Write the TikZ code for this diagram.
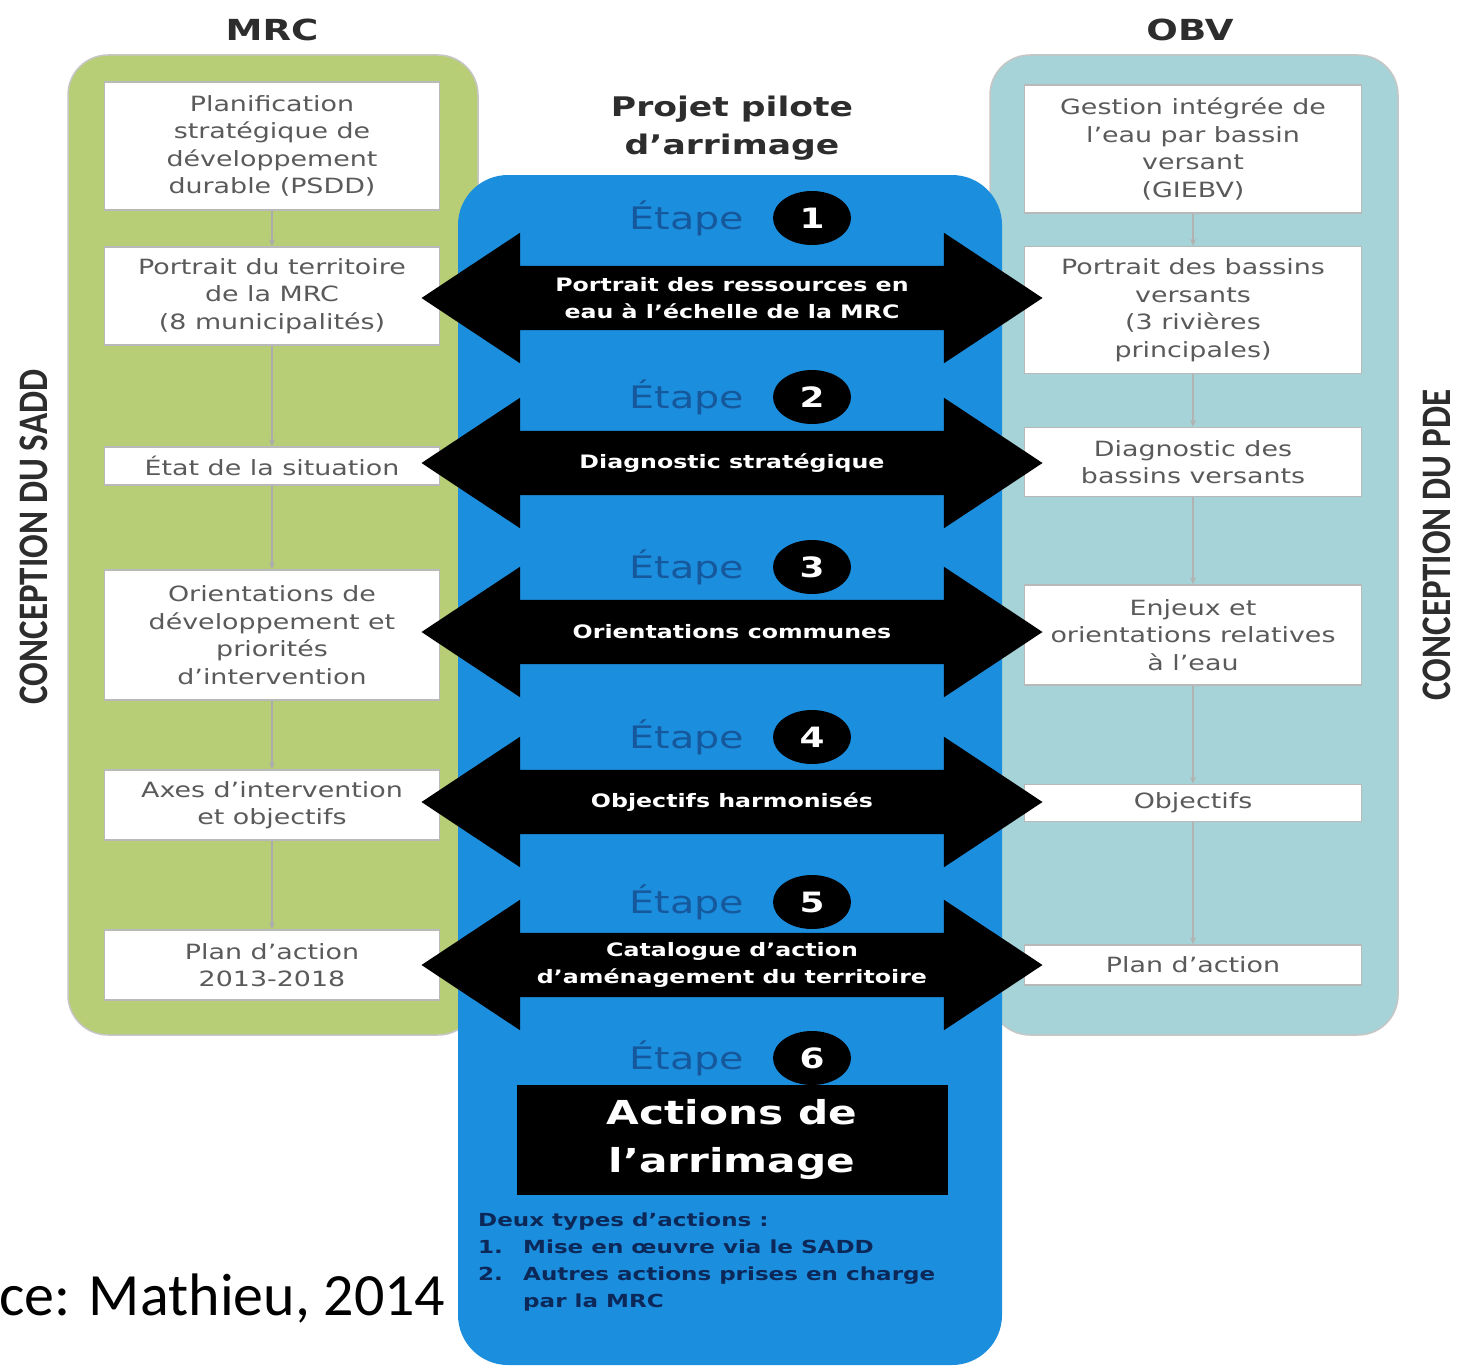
\documentclass[tikz,border=0pt]{standalone}
\usepackage{fontspec}
\usepackage{graphicx}
\setmainfont{DejaVu Sans}[FakeStretch=1.28]
\newfontfamily\srcfont{Carlito}
\newfontfamily\sidefont{Carlito}
\usetikzlibrary{shapes.arrows,shapes.geometric,arrows.meta}
\definecolor{mrcgreen}{RGB}{183,205,118}
\definecolor{obvteal}{RGB}{166,211,215}
\definecolor{pilotblue}{RGB}{28,142,222}
\definecolor{etapeblue}{RGB}{22,88,156}
\definecolor{titlegray}{RGB}{45,45,45}
\definecolor{boxtext}{RGB}{90,90,90}
\definecolor{listnavy}{RGB}{12,40,88}
\newcommand{\arrtext}[1]{\parbox[c][44pt][c]{400pt}{\centering #1}}

\begin{document}
\begin{tikzpicture}[x=1pt,y=-1pt,
  mrcbox/.style={rectangle,draw=gray!55,line width=1.5pt,fill=white,text=boxtext,
    align=center,minimum width=335pt,inner sep=2pt,font=\fontsize{21}{27.5}\selectfont},
  obvbox/.style={mrcbox,minimum width=337pt},
  titre/.style={text=titlegray,align=center,font=\bfseries\fontsize{29}{38}\selectfont},
  cote/.style={rotate=90,text=titlegray,inner sep=0pt,font=\sidefont\bfseries\fontsize{35}{35}\selectfont},
  etape/.style={text=etapeblue,font=\fontsize{31}{31}\selectfont},
  numero/.style={ellipse,fill=black,text=white,minimum width=78pt,minimum height=54pt,
    inner sep=0pt,font=\bfseries\fontsize{28}{28}\selectfont},
  lien/.style={double arrow,fill=black,text=white,minimum height=621pt,minimum width=130pt,
    double arrow head extend=33pt,double arrow tip angle=67,inner xsep=0pt,inner ysep=10pt,
    font=\bfseries\fontsize{18.5}{27}\selectfont},
  fleche/.style={draw=#1,line width=1.3pt,-{Stealth[length=7pt,width=6pt]}}]
\useasboundingbox (0,0) rectangle (1459,1370);
\filldraw[fill=mrcgreen,draw=gray!45,line width=1.5pt,rounded corners=40pt] (68,55) rectangle (478,1035);
\filldraw[fill=obvteal,draw=gray!45,line width=1.5pt,rounded corners=40pt] (990,55) rectangle (1398,1035);
\node[anchor=base west,font=\srcfont\fontsize{60}{60}\selectfont] (source) at (-4,1315) {ce: Mathieu, 2014};
\fill[pilotblue,rounded corners=50pt] (458,175) rectangle (1002,1365);
\path
(272,30) node[titre] (mrc) {MRC}
(1190,30) node[titre] (obv) {OBV}
(732,128) node[titre,font=\bfseries\fontsize{27}{38}\selectfont] (pilote) {Projet pilote\\d'arrimage}
(34,537) node[cote] (sadd) {\scalebox{1}[1.2]{CONCEPTION DU SADD}}
(1437,545) node[cote] (pde) {\scalebox{1}[1.2]{CONCEPTION DU PDE}}
(272,146) node[mrcbox,minimum height=128pt] (m1) {Planification\\stratégique de\\développement\\durable (PSDD)}
(272,296) node[mrcbox,minimum height=98pt] (m2) {Portrait du territoire\\de la MRC\\(8 municipalités)}
(272,466) node[mrcbox,minimum height=38pt] (m3) {État de la situation}
(272,635) node[mrcbox,minimum height=130pt] (m4) {Orientations de\\développement et\\priorités\\d'intervention}
(272,805) node[mrcbox,minimum height=70pt] (m5) {Axes d'intervention\\et objectifs}
(272,965) node[mrcbox,minimum height=70pt] (m6) {Plan d'action\\2013-2018}
(1193,149) node[obvbox,minimum height=128pt] (o1) {Gestion intégrée de\\l'eau par bassin\\versant\\(GIEBV)}
(1193,310) node[obvbox,minimum height=127pt] (o2) {Portrait des bassins\\versants\\(3 rivières\\principales)}
(1193,462) node[obvbox,minimum height=69pt] (o3) {Diagnostic des\\bassins versants}
(1193,635) node[obvbox,minimum height=100pt] (o4) {Enjeux et\\orientations relatives\\à l'eau}
(1193,803) node[obvbox,minimum height=37pt] (o5) {Objectifs}
(1193,965) node[obvbox,minimum height=40pt] (o6) {Plan d'action}
(687,218) node[etape] (s1) {Étape}
(812,218) node[numero] (n1) {1}
(687,397) node[etape] (s2) {Étape}
(812,397) node[numero] (n2) {2}
(687,567) node[etape] (s3) {Étape}
(812,567) node[numero] (n3) {3}
(687,737) node[etape] (s4) {Étape}
(812,737) node[numero] (n4) {4}
(687,902) node[etape] (s5) {Étape}
(812,902) node[numero] (n5) {5}
(687,1058) node[etape] (s6) {Étape}
(812,1058) node[numero] (n6) {6}
(732,298) node[lien] (a1) {\arrtext{Portrait des ressources en\\eau à l'échelle de la MRC}}
(732,463) node[lien] (a2) {\arrtext{Diagnostic stratégique}}
(732,632) node[lien] (a3) {\arrtext{Orientations communes}}
(732,802) node[lien] (a4) {\arrtext{Objectifs harmonisés}}
(732,965) node[lien] (a5) {\arrtext{Catalogue d'action\\d'aménagement du territoire}}
(732,1140) node[fill=black,text=white,minimum width=431pt,minimum height=110pt,align=center,
  font=\bfseries\fontsize{33}{48}\selectfont] (actions) {Actions de\\l'arrimage}
(478,1213) node[anchor=north west,text=listnavy,align=left,inner sep=0pt,
  font=\bfseries\fontsize{18}{27}\selectfont] (types) {Deux types d'actions :\\\makebox[45pt][l]{1.}Mise en œuvre via le SADD\\\makebox[45pt][l]{2.}Autres actions prises en charge\\\hspace*{45pt}par la MRC};

\draw[fleche=gray!65] (m1) -- (m2);
\draw[fleche=gray!65] (m2) -- (m3);
\draw[fleche=gray!65] (m3) -- (m4);
\draw[fleche=gray!65] (m4) -- (m5);
\draw[fleche=gray!65] (m5) -- (m6);
\draw[fleche=gray!60] (o1) -- (o2);
\draw[fleche=gray!60] (o2) -- (o3);
\draw[fleche=gray!60] (o3) -- (o4);
\draw[fleche=gray!60] (o4) -- (o5);
\draw[fleche=gray!60] (o5) -- (o6);
\end{tikzpicture}
\end{document}
